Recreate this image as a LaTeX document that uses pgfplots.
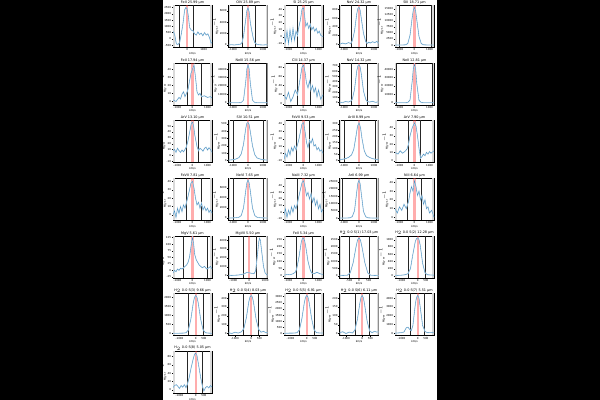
\documentclass[border=0pt]{standalone}
\usepackage{pgfplots}
\pgfplotsset{compat=1.18}
\usepackage{fontspec}
\setmainfont{DejaVu Sans}
\definecolor{tabblue}{HTML}{1F77B4}

\pgfplotsset{
  sub/.style={
    scale only axis, width=39bp, height=42bp, anchor=north west,
    xmin=-1300, xmax=1300, xtick={-1000,0,1000},
    xtick pos=bottom, ytick pos=left, tick align=outside,
    major tick length=1.2bp,
    tick style={line width=0.25pt, black},
    axis line style={line width=0.3pt},
    tick label style={font=\fontsize{2.7}{3}\selectfont, inner sep=0.5bp},
    every axis title shift=0pt,
    title style={font=\fontsize{3.4}{4}\selectfont, inner sep=0.6bp},
    xlabel={km/s}, ylabel={MJy sr$^{-1}$},
    label style={font=\fontsize{2.7}{3}\selectfont, inner sep=0.5bp},
    scaled ticks=false,
    /pgf/number format/1000 sep={},
    /pgf/number format/assume math mode=true,
  },
}

% #1 position, #2 title, #3 extra options, #4 ymin, #5 ymax, #6 left line, #7 right line, #8 data
\newcommand\panel[8]{%
\begin{axis}[sub, at={(#1)}, title={#2}, ymin=#4, ymax=#5, #3]
  \fill[gray!30] (rel axis cs:0,0) rectangle (rel axis cs:0.05,1);
  \fill[gray!30] (rel axis cs:0.95,0) rectangle (rel axis cs:1,1);
  \fill[red!80, opacity=0.4] (axis cs:-70,#4) rectangle (axis cs:70,#5);
  \draw[black!85, line width=0.5pt] (axis cs:#6,#4) -- (axis cs:#6,#5);
  \draw[black!85, line width=0.5pt] (axis cs:#7,#4) -- (axis cs:#7,#5);
  \addplot[no markers, color=tabblue!25, line width=0.9pt] coordinates {#8};
  \addplot[no markers, color=tabblue!85, line width=0.3pt] coordinates {#8};
\end{axis}}

\begin{document}
\begin{tikzpicture}
\fill[black] (0,0) rectangle (600bp,400bp);
\fill[white] (163bp,0) rectangle (437bp,400bp);

% ---- row 1
\panel{173bp,395bp}{FeII 25.99 μm}{xmin=-850, xmax=1500, xtick={0,1000}, ytick={-500,0,500,1000,1500,2000,2500}}{-650}{2700}{-500}{400}
{(-850,600)(-750,350)(-650,-400)(-550,-450)(-450,-300)(-350,400)(-250,1200)(-150,2300)(-75,2500)(0,2400)(75,1800)(150,900)(250,700)(350,650)(450,400)(550,300)(650,550)(750,350)(850,450)(950,250)(1050,500)(1150,300)(1250,400)(1350,100)(1450,-350)(1500,-300)}
\panel{228.5bp,395bp}{OIV 25.89 μm}{ytick={0,2000,4000,6000}}{-350}{7000}{-400}{450}
{(-1300,0)(-1100,50)(-900,0)(-700,80)(-500,150)(-400,400)(-300,1500)(-150,4500)(-75,6000)(0,6500)(75,5800)(150,4000)(250,2500)(350,1200)(450,400)(600,100)(800,30)(1000,0)(1200,40)(1300,0)}
\panel{284bp,395bp}{SI 25.25 μm}{ytick={-10,0,10,20,30,40}}{-15}{46}{-400}{450}
{(-1300,5)(-1200,-8)(-1100,8)(-1000,-10)(-900,10)(-800,-6)(-700,12)(-600,-5)(-500,8)(-400,2)(-300,15)(-200,25)(-100,40)(0,42)(75,30)(150,15)(250,20)(350,12)(450,18)(550,10)(650,14)(750,8)(850,12)(950,5)(1050,8)(1150,2)(1300,0)}
\panel{339.5bp,395bp}{NeV 24.32 μm}{ytick={0,200,400,600,800}}{-60}{900}{-500}{500}
{(-1300,0)(-1100,30)(-900,10)(-700,40)(-550,20)(-450,80)(-300,300)(-150,700)(-75,820)(0,850)(75,780)(150,600)(300,250)(450,60)(550,20)(650,50)(750,30)(900,60)(1050,40)(1200,70)(1300,20)}
\panel{395bp,395bp}{SIII 18.71 μm}{ytick={0,2500,5000,7500,10000,12500,15000}}{-800}{16500}{-1000}{1100}
{(-1300,0)(-1000,0)(-800,30)(-600,100)(-450,600)(-300,4000)(-150,11500)(-75,14500)(0,15500)(75,14000)(150,10500)(300,3500)(450,600)(600,100)(800,50)(1000,20)(1300,0)}

% ---- row 2
\panel{173bp,337.3bp}{FeII 17.94 μm}{ytick={0,10,20,30,40}}{-4}{48}{-350}{600}
{(-1300,2)(-1100,0)(-900,5)(-800,3)(-700,9)(-600,12)(-500,6)(-400,10)(-300,15)(-200,25)(-100,35)(0,40)(100,45)(200,30)(300,12)(400,8)(500,10)(600,6)(800,7)(1000,5)(1200,6)(1300,4)}
\panel{228.5bp,337.3bp}{NeIII 15.56 μm}{ytick={0,10000,20000,30000,40000}}{-2300}{47500}{-1200}{1200}
{(-1300,0)(-900,0)(-600,50)(-450,300)(-300,3000)(-150,25000)(-75,40000)(0,45000)(75,40000)(150,24000)(300,3000)(450,300)(600,50)(900,0)(1300,0)}
\panel{284bp,337.3bp}{ClII 14.37 μm}{ytick={0,20,40,60,80}}{-2}{90}{-450}{450}
{(-1300,20)(-1150,10)(-1000,25)(-850,5)(-700,15)(-550,30)(-400,20)(-300,40)(-200,60)(-100,80)(0,85)(100,70)(200,45)(300,35)(400,50)(500,30)(600,40)(700,25)(800,35)(900,15)(1000,30)(1150,10)(1300,20)}
\panel{339.5bp,337.3bp}{NeV 14.32 μm}{ytick={0,100,200,300,400,500,600,700}}{-40}{760}{-550}{550}
{(-1300,10)(-1100,0)(-900,20)(-700,10)(-550,30)(-450,60)(-300,250)(-150,600)(-75,700)(0,720)(75,680)(150,550)(300,220)(450,60)(550,20)(700,10)(900,25)(1100,5)(1300,15)}
\panel{395bp,337.3bp}{NeII 12.81 μm}{ytick={0,10000,20000,30000,40000}}{-2300}{47500}{-1200}{1200}
{(-1300,0)(-900,0)(-600,50)(-450,300)(-300,3200)(-150,26000)(-75,41000)(0,45500)(75,40000)(150,23000)(300,2800)(450,300)(600,50)(900,0)(1300,0)}

% ---- row 3
\panel{173bp,279.7bp}{ArV 13.10 μm}{ytick={-10,0,10,20,30,40,50}}{-12}{60}{-450}{400}
{(-1300,8)(-1200,10)(-1100,5)(-1000,12)(-900,8)(-800,5)(-700,9)(-600,6)(-500,10)(-400,15)(-300,25)(-150,45)(-75,55)(0,57)(75,50)(150,35)(300,15)(400,8)(500,12)(600,10)(700,7)(800,12)(900,14)(1000,9)(1100,13)(1200,10)(1300,5)}
\panel{228.5bp,279.7bp}{SIV 10.51 μm}{ytick={0,100,200,300,400,500}}{-25}{550}{-1000}{1000}
{(-1300,5)(-1000,10)(-800,20)(-600,40)(-450,90)(-300,220)(-150,440)(-75,510)(0,520)(75,490)(150,400)(300,200)(450,80)(600,35)(800,20)(1000,10)(1300,5)}
\panel{284bp,279.7bp}{FeVII 9.53 μm}{ytick={-10,0,10,20,30,40}}{-12}{45}{-500}{350}
{(-1300,-8)(-1200,0)(-1100,-5)(-1000,5)(-900,-2)(-800,8)(-700,3)(-600,10)(-500,5)(-400,12)(-300,20)(-200,30)(-100,40)(0,42)(100,30)(200,15)(300,8)(400,18)(500,14)(600,20)(700,10)(800,12)(900,5)(1000,8)(1100,3)(1200,5)(1300,0)}
\panel{339.5bp,279.7bp}{ArIII 8.99 μm}{ytick={0,50,100,150,200,250,300}}{-15}{330}{-1000}{1050}
{(-1300,5)(-1100,10)(-900,15)(-700,25)(-500,45)(-350,90)(-200,200)(-100,280)(0,310)(100,270)(200,180)(350,80)(500,40)(700,25)(900,15)(1100,10)(1300,5)}
\panel{395bp,279.7bp}{ArV 7.90 μm}{ytick={0,10,20,30,40}}{-2}{49}{-450}{350}
{(-1300,10)(-1100,8)(-950,12)(-800,9)(-650,11)(-500,14)(-400,20)(-300,30)(-150,40)(0,46)(100,42)(200,30)(300,15)(400,3)(500,5)(600,8)(700,6)(800,10)(900,8)(1000,11)(1100,9)(1300,12)}

% ---- row 4
\panel{173bp,222bp}{FeVII 7.81 μm}{ytick={0,10,20,30,40}}{-6}{44}{-400}{600}
{(-1300,0)(-1200,5)(-1100,-3)(-1000,8)(-900,2)(-800,10)(-700,4)(-600,12)(-500,8)(-400,15)(-300,22)(-200,30)(-100,38)(0,40)(100,32)(200,20)(300,12)(400,15)(500,8)(600,14)(700,6)(800,10)(900,5)(1000,8)(1100,3)(1200,6)(1300,2)}
\panel{228.5bp,222bp}{NeVI 7.65 μm}{ytick={0,2000,4000,6000}}{-400}{8000}{-1000}{1000}
{(-1300,0)(-1000,20)(-800,50)(-600,150)(-450,500)(-300,2000)(-150,5500)(-75,7000)(0,7600)(75,7000)(150,5500)(300,2000)(450,500)(600,150)(800,50)(1000,20)(1300,0)}
\panel{284bp,222bp}{NaIII 7.32 μm}{ytick={-10,0,10,20,30,40}}{-12}{52}{-450}{500}
{(-1300,-5)(-1200,5)(-1100,-8)(-1000,3)(-900,-4)(-800,8)(-700,0)(-600,10)(-500,5)(-400,14)(-300,25)(-200,35)(-100,45)(0,48)(100,38)(200,25)(300,30)(400,20)(500,28)(600,15)(700,22)(800,10)(900,18)(1000,5)(1100,12)(1200,0)(1300,5)}
\panel{339.5bp,222bp}{ArII 6.99 μm}{ytick={0,5000,10000,15000,20000,25000}}{-1300}{27500}{-1150}{1150}
{(-1300,0)(-900,20)(-600,200)(-450,1000)(-300,5000)(-150,18000)(-75,24000)(0,26000)(75,23500)(150,17000)(300,4500)(450,900)(600,200)(900,20)(1300,0)}
\panel{395bp,222bp}{NiII 6.64 μm}{ytick={0,10,20,30,40}}{-3}{45}{-500}{450}
{(-1300,10)(-1150,5)(-1000,12)(-850,8)(-700,15)(-550,10)(-400,18)(-300,28)(-200,35)(-100,30)(0,42)(100,35)(200,25)(300,30)(400,20)(500,25)(600,15)(700,20)(800,10)(900,12)(1000,5)(1150,8)(1300,0)}

% ---- row 5
\panel{173bp,164.3bp}{MgV 5.61 μm}{ytick={-25,0,25,50,75,100,125}}{-28}{132}{-600}{950}
{(-1300,-10)(-1200,0)(-1100,-5)(-1000,5)(-900,0)(-800,8)(-700,5)(-600,10)(-500,15)(-400,20)(-300,30)(-200,50)(-100,90)(-50,110)(0,125)(75,100)(150,60)(250,40)(350,30)(450,20)(550,15)(650,10)(800,15)(950,5)(1100,10)(1200,15)(1300,5)}
\panel{228.5bp,164.3bp}{MgVII 5.50 μm}{xmax=1150, ytick={0,1000,2000,3000,4000}}{-250}{4500}{-350}{450}
{(-1300,0)(-1000,20)(-700,50)(-500,100)(-300,200)(-150,350)(0,300)(150,250)(300,200)(400,500)(500,2000)(600,3800)(650,4200)(700,4000)(800,2500)(900,1000)(1000,300)(1100,100)(1150,50)}
\panel{284bp,164.3bp}{FeII 5.34 μm}{ytick={0,50,100,150,200,250}}{-12}{275}{-500}{550}
{(-1300,5)(-1100,10)(-900,8)(-700,15)(-550,25)(-450,50)(-300,130)(-150,230)(-75,255)(0,260)(75,240)(150,200)(300,100)(450,40)(550,20)(700,15)(900,25)(1100,15)(1300,10)}
\panel{339.5bp,164.3bp}{H$_2$ 0-0 S(1) 17.03 μm}{xmin=-1000, xmax=1000, xtick={-500,0,500}, ytick={0,500,1000,1500,2000,2500}}{-130}{2750}{-480}{500}
{(-1000,20)(-800,30)(-600,40)(-450,200)(-300,900)(-150,2000)(-75,2450)(0,2600)(75,2450)(150,2000)(300,900)(450,200)(600,40)(800,30)(1000,20)}
\panel{395bp,164.3bp}{H$_2$ 0-0 S(2) 12.28 μm}{xmin=-1400, xmax=1000, xtick={-1000,0,500}, ytick={0,200,400,600,800,1000}}{-50}{1110}{-600}{450}
{(-1400,10)(-1200,15)(-1000,20)(-800,30)(-600,60)(-450,200)(-300,600)(-150,950)(-75,1030)(0,1050)(75,1000)(150,850)(300,350)(450,80)(600,30)(800,25)(1000,20)}

% ---- row 6
\panel{173bp,106.7bp}{H$_2$ 0-0 S(3) 9.66 μm}{xmin=-1400, xmax=1000, xtick={-1000,0,500}, ytick={0,500,1000,1500,2000}}{-100}{2220}{-450}{450}
{(-1400,10)(-1100,15)(-800,20)(-600,40)(-450,200)(-300,800)(-150,1700)(-75,2000)(0,2100)(75,2000)(150,1700)(300,800)(450,200)(600,40)(800,20)(1000,15)}
\panel{228.5bp,106.7bp}{H$_2$ 0-0 S(4) 8.03 μm}{xmin=-1400, xmax=1000, xtick={-1000,0,500}, ytick={0,100,200,300,400}}{-20}{455}{-500}{400}
{(-1400,10)(-1200,0)(-1000,15)(-800,5)(-600,20)(-450,60)(-300,180)(-150,360)(-75,415)(0,430)(75,410)(150,340)(300,160)(450,50)(600,15)(750,25)(900,10)(1000,15)}
\panel{284bp,106.7bp}{H$_2$ 0-0 S(5) 6.91 μm}{xmin=-1400, xmax=1000, xtick={-1000,0,500}, ytick={0,500,1000,1500,2000,2500,3000}}{-150}{3270}{-450}{450}
{(-1400,20)(-1100,25)(-800,30)(-600,60)(-450,300)(-300,1200)(-150,2500)(-75,2950)(0,3100)(75,2950)(150,2500)(300,1200)(450,300)(600,60)(800,40)(1000,30)}
\panel{339.5bp,106.7bp}{H$_2$ 0-0 S(6) 6.11 μm}{xmin=-1400, xmax=1000, xtick={-1000,0,500}, ytick={0,50,100,150,200}}{-10}{227}{-450}{400}
{(-1400,5)(-1200,10)(-1000,0)(-800,8)(-600,3)(-450,20)(-300,80)(-150,170)(-75,205)(0,215)(75,200)(150,160)(300,70)(450,15)(600,5)(750,12)(900,8)(1000,10)}
\panel{395bp,106.7bp}{H$_2$ 0-0 S(7) 5.51 μm}{xmin=-1400, xmax=1000, xtick={-1000,0,500}, ytick={0,1000,2000,3000,4000}}{-220}{4550}{-450}{400}
{(-1400,20)(-1200,50)(-1000,80)(-850,150)(-700,650)(-600,700)(-500,450)(-400,300)(-300,900)(-150,3300)(-75,4100)(0,4300)(75,4000)(150,3000)(300,900)(450,200)(600,80)(800,100)(1000,60)}

% ---- row 7
\panel{173bp,49bp}{H$_2$ 0-0 S(8) 5.05 μm}{xmin=-1400, xmax=1000, xtick={-1000,0,500}, ytick={0,20,40,60,80}}{-8}{93}{-500}{400}
{(-1400,5)(-1300,10)(-1200,12)(-1100,8)(-1000,3)(-900,10)(-800,6)(-700,12)(-600,5)(-500,15)(-400,30)(-300,50)(-150,75)(-75,85)(0,88)(75,82)(150,65)(300,30)(400,10)(500,-3)(600,5)(700,8)(800,4)(900,10)(1000,6)}

\pgfresetboundingbox
\useasboundingbox (0,0) rectangle (600bp,400bp);
\end{tikzpicture}
\end{document}
